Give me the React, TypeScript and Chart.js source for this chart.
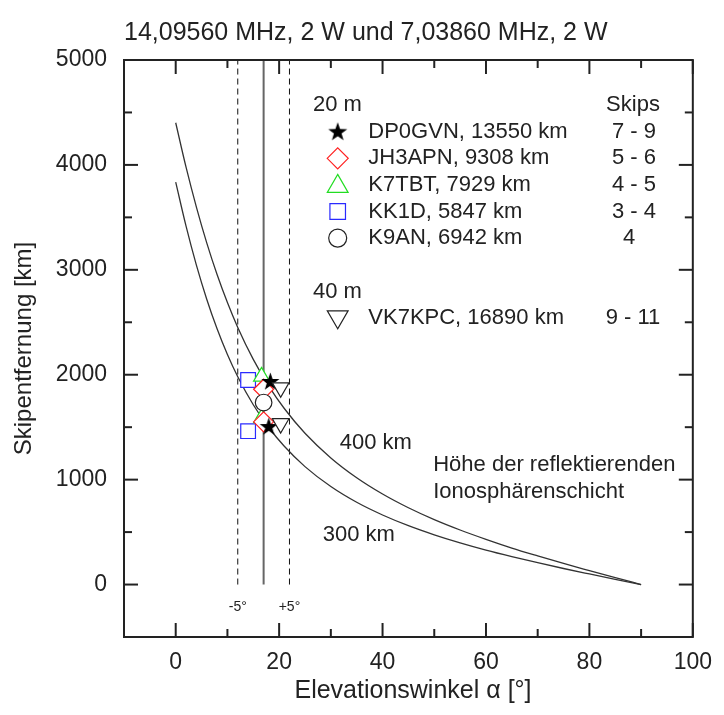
import React, { useEffect, useRef } from 'react';
import { Chart, registerables } from 'chart.js';
import { drawPoint } from 'chart.js/helpers';

Chart.register(...registerables);

// ---------- texts ----------
const TITLE = '14,09560 MHz, 2 W und 7,03860 MHz, 2 W';
const X_TITLE = 'Elevationswinkel α [°]';
const Y_TITLE = 'Skipentfernung [km]';

// ---------- axes ----------
const xTickValues = [0, 20, 40, 60, 80, 100];
const xMinorValues = [10, 30, 50, 70, 90];
const yTickValues = [0, 1000, 2000, 3000, 4000, 5000];
const yMinorValues = [500, 1500, 2500, 3500, 4500];

// ---------- skip distance curves ----------
const curveAngles = [0, 2, 4, 6, 8, 10, 12, 15, 18, 21, 25, 30, 35, 40, 45, 50, 55, 60, 65, 70, 75, 80, 85, 90];
const skip400 = [4402, 3978, 3598, 3257, 2955, 2688, 2451, 2146, 1892, 1678, 1442, 1207, 1018, 863, 732, 619, 520, 431, 348, 273, 201, 133, 66, 0];
const skip300 = [3836, 3416, 3045, 2720, 2438, 2193, 1981, 1714, 1497, 1318, 1124, 934, 784, 663, 561, 474, 397, 328, 266, 208, 153, 101, 50, 0];

// ---------- reference lines ----------
const centerAngle = 17;
const offsetAngles = [12, 22];
const refLineSpan = [0, 5000];

// ---------- station points ----------
const starAngles = [18.3, 18.0];
const starDist = [1936, 1506];
const diamondAngles = [17, 17];
const diamondDist = [1862, 1551];
const triAngles = [16.6, 16.6];
const triDist = [1982, 1586];
const squareAngles = [14, 14];
const squareDist = [1949, 1462];
const circleAngles = [17];
const circleDist = [1735];
const downTriAngles = [20.3, 20.3];
const downTriDist = [1877, 1535];

// ---------- legend ----------
const band20 = '20 m';
const band40 = '40 m';
const skipsHeader = 'Skips';
const names20 = ['DP0GVN, 13550 km', 'JH3APN, 9308 km', 'K7TBT, 7929 km', 'KK1D, 5847 km', 'K9AN, 6942 km'];
const skips20 = ['7 - 9', '5 - 6', '4 - 5', '3 - 4', '4'];
const names40 = ['VK7KPC, 16890 km'];
const skips40 = ['9 - 11'];

const label400 = '400 km';
const label300 = '300 km';
const layerText = ['Höhe der reflektierenden', 'Ionosphärenschicht'];
const minusLabel = '-5°';
const plusLabel = '+5°';

const FONT = '"Liberation Sans", Arial, Helvetica, sans-serif';
const RED = '#ff2020';
const GREEN = '#22dd22';
const BLUE = '#2a2aff';
const DARK = '#222222';

function makeStar(R: number): HTMLCanvasElement {
  const c = document.createElement('canvas');
  const size = Math.ceil(R * 2 + 2);
  c.width = size;
  c.height = size;
  const g = c.getContext('2d')!;
  const cx = size / 2;
  const cy = size / 2 + R * 0.05;
  const r = R * 0.4;
  g.beginPath();
  for (let i = 0; i < 10; i++) {
    const ang = -Math.PI / 2 + (i * Math.PI) / 5;
    const rr = i % 2 === 0 ? R : r;
    const px = cx + Math.cos(ang) * rr;
    const py = cy + Math.sin(ang) * rr;
    if (i === 0) g.moveTo(px, py);
    else g.lineTo(px, py);
  }
  g.closePath();
  g.fillStyle = '#000';
  g.fill();
  return c;
}

const pts = (xs: number[], ys: number[]) => xs.map((v, i) => ({ x: v, y: ys[i] }));

export default function App() {
  const ref = useRef<HTMLCanvasElement | null>(null);

  useEffect(() => {
    document.body.style.margin = '0';
    const canvas = ref.current!;
    const starImg = makeStar(9.5);
    const starLegend = makeStar(10);

    const overlay = {
      id: 'overlay',
      afterDraw(chart: any) {
        const { ctx, chartArea: a, scales } = chart;
        const x = scales.x;
        const y = scales.y;
        ctx.save();
        // frame
        ctx.strokeStyle = DARK;
        ctx.lineWidth = 2;
        ctx.strokeRect(a.left, a.top, a.right - a.left, a.bottom - a.top);
        // inward ticks on all four sides
        const line = (x1: number, y1: number, x2: number, y2: number) => {
          ctx.beginPath();
          ctx.moveTo(x1, y1);
          ctx.lineTo(x2, y2);
          ctx.stroke();
        };
        const xt = (vals: number[], len: number) => vals.forEach((v) => {
          const px = x.getPixelForValue(v);
          line(px, a.bottom, px, a.bottom - len);
          line(px, a.top, px, a.top + len);
        });
        const yt = (vals: number[], len: number) => vals.forEach((v) => {
          const py = y.getPixelForValue(v);
          line(a.left, py, a.left + len, py);
          line(a.right, py, a.right - len, py);
        });
        xt(xTickValues, 14);
        xt(xMinorValues, 8);
        yt(yTickValues, 14);
        yt(yMinorValues, 8);

        ctx.fillStyle = DARK;
        // title
        ctx.font = `25px ${FONT}`;
        ctx.textAlign = 'left';
        ctx.textBaseline = 'middle';
        ctx.fillText(TITLE, a.left, 33);
        // axis titles
        ctx.font = `25px ${FONT}`;
        ctx.textAlign = 'center';
        ctx.fillText(X_TITLE, 413, 691);
        ctx.font = `24px ${FONT}`;
        ctx.save();
        ctx.translate(24, (a.top + a.bottom) / 2);
        ctx.rotate(-Math.PI / 2);
        ctx.fillText(Y_TITLE, 0, 0);
        ctx.restore();

        // curve labels
        ctx.font = `22px ${FONT}`;
        ctx.textAlign = 'center';
        ctx.fillText(label400, x.getPixelForValue(38.7), y.getPixelForValue(1350));
        ctx.fillText(label300, x.getPixelForValue(35.4), y.getPixelForValue(470));
        ctx.textAlign = 'left';
        ctx.fillText(layerText[0], x.getPixelForValue(49.8), y.getPixelForValue(1138));
        ctx.fillText(layerText[1], x.getPixelForValue(49.8), y.getPixelForValue(883));
        // +-5 deg labels
        ctx.font = `14px ${FONT}`;
        ctx.textAlign = 'center';
        ctx.fillText(minusLabel, x.getPixelForValue(offsetAngles[0]), y.getPixelForValue(-216));
        ctx.fillText(plusLabel, x.getPixelForValue(offsetAngles[1]), y.getPixelForValue(-216));

        // legend
        const L = a.left;
        const T = a.top;
        const row = 26.6;
        const hx = L + 189;
        const mx = L + 213.7;
        const nx = L + 244.3;
        const sx = L + 510;
        ctx.font = `22px ${FONT}`;
        ctx.textAlign = 'left';
        ctx.fillText(band20, hx, T + 45);
        ctx.textAlign = 'center';
        ctx.fillText(skipsHeader, sx - 1, T + 45);
        const rowsY = names20.map((_, i) => T + 71.7 + i * row);
        names20.forEach((n, i) => {
          ctx.fillStyle = DARK;
          ctx.textAlign = 'left';
          ctx.fillText(n, nx, rowsY[i]);
          ctx.textAlign = 'center';
          ctx.fillText(skips20[i], i === 4 ? sx - 5 : sx, rowsY[i]);
        });
        ctx.textAlign = 'left';
        ctx.fillText(band40, hx, T + 231.7);
        ctx.fillText(names40[0], nx, T + 258.3);
        ctx.textAlign = 'center';
        ctx.fillText(skips40[0], sx - 1, T + 258.3);

        // legend markers
        ctx.lineWidth = 1.2;
        ctx.drawImage(starLegend, mx - starLegend.width / 2, rowsY[0] - starLegend.height / 2);
        const mk = (style: string, r: number, color: string, yy: number, rot = 0) => {
          ctx.fillStyle = '#ffffff';
          ctx.strokeStyle = color;
          drawPoint(ctx, { pointStyle: style, radius: r, rotation: rot, borderWidth: 1.2 } as any, mx, yy);
        };
        mk('rectRot', 10.5, RED, rowsY[1]);
        mk('triangle', 12, GREEN, rowsY[2] + 1.5);
        mk('rect', 11, BLUE, rowsY[3]);
        mk('circle', 9, DARK, rowsY[4]);
        mk('triangle', 12, DARK, T + 258.3 - 1.5, 180);
        ctx.restore();
      },
    };

    const markerBase = {
      showLine: false,
      backgroundColor: '#ffffff',
      borderWidth: 1.2,
      pointBorderWidth: 1.2,
    };

    const chart = new Chart(canvas, {
      type: 'scatter',
      data: {
        datasets: [
          { ...markerBase, data: pts(downTriAngles, downTriDist), pointStyle: 'triangle', rotation: 180, pointRadius: 9.6, borderColor: DARK, pointBackgroundColor: '#fff' } as any,
          { ...markerBase, data: pts(starAngles, starDist), pointStyle: starImg, pointRadius: 9, borderColor: '#000' } as any,
          { ...markerBase, data: pts(circleAngles, circleDist), pointStyle: 'circle', pointRadius: 8.3, borderColor: DARK, pointBackgroundColor: '#fff' } as any,
          { ...markerBase, data: pts(diamondAngles, diamondDist), pointStyle: 'rectRot', pointRadius: 10, borderColor: RED, pointBackgroundColor: '#fff' } as any,
          { ...markerBase, data: pts(triAngles, triDist), pointStyle: 'triangle', pointRadius: 9.2, borderColor: GREEN, pointBackgroundColor: '#fff' } as any,
          { ...markerBase, data: pts(squareAngles, squareDist), pointStyle: 'rect', pointRadius: 10.4, borderColor: BLUE, pointBackgroundColor: '#fff' } as any,
          { data: pts(curveAngles, skip400), showLine: true, pointRadius: 0, borderColor: '#333', borderWidth: 1.3, cubicInterpolationMode: 'monotone' } as any,
          { data: pts(curveAngles, skip300), showLine: true, pointRadius: 0, borderColor: '#333', borderWidth: 1.3, cubicInterpolationMode: 'monotone' } as any,
          { data: refLineSpan.map((v) => ({ x: centerAngle, y: v })), showLine: true, pointRadius: 0, borderColor: '#666', borderWidth: 2 } as any,
          { data: refLineSpan.map((v) => ({ x: offsetAngles[0], y: v })), showLine: true, pointRadius: 0, borderColor: '#111', borderWidth: 1, borderDash: [6, 4] } as any,
          { data: refLineSpan.map((v) => ({ x: offsetAngles[1], y: v })), showLine: true, pointRadius: 0, borderColor: '#111', borderWidth: 1, borderDash: [6, 4] } as any,
        ],
      },
      options: {
        responsive: false,
        animation: false,
        devicePixelRatio: 1,
        layout: { padding: { left: 0, right: 22, top: 60, bottom: 0 } },
        plugins: {
          legend: { display: false },
          tooltip: { enabled: false },
          title: { display: false },
        },
        scales: {
          x: {
            type: 'linear',
            min: -10,
            max: 100,
            grid: { display: false, drawTicks: false },
            border: { display: false },
            afterBuildTicks: (s: any) => { s.ticks = xTickValues.map((v) => ({ value: v })); },
            afterFit: (s: any) => { s.height = 78; },
            ticks: {
              autoSkip: false,
              maxRotation: 0,
              padding: 12,
              color: DARK,
              font: { family: FONT, size: 23 },
              callback: (v: any) => String(v),
            },
          },
          y: {
            type: 'linear',
            min: -500,
            max: 5000,
            grid: { display: false, drawTicks: false },
            border: { display: false },
            afterBuildTicks: (s: any) => { s.ticks = yTickValues.map((v) => ({ value: v })); },
            afterFit: (s: any) => { s.width = 124; },
            ticks: {
              autoSkip: false,
              padding: 17,
              color: DARK,
              font: { family: FONT, size: 23 },
              callback: (v: any) => String(v),
            },
          },
        },
      } as any,
      plugins: [overlay],
    });
    return () => chart.destroy();
  }, []);

  return (
    <div style={{ width: 724, height: 715, background: '#fff' }}>
      <canvas ref={ref} width={724} height={715} style={{ display: 'block' }} />
    </div>
  );
}
